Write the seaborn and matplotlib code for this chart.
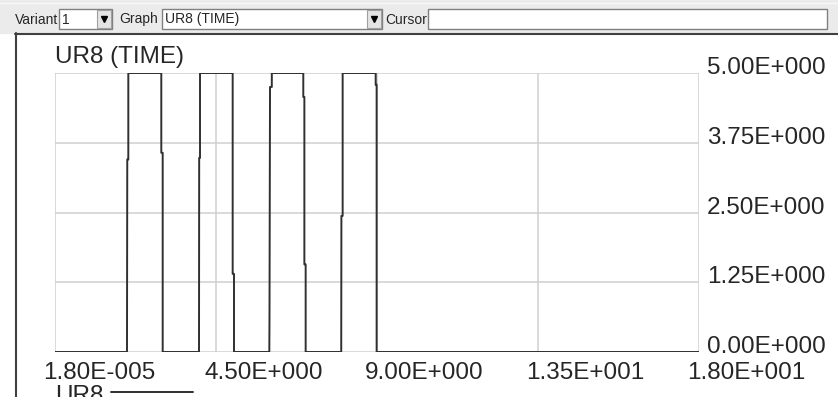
import numpy as np
import pandas as pd
import matplotlib
matplotlib.use("Agg")
import matplotlib.pyplot as plt
import seaborn as sns
from matplotlib.patches import Rectangle

# signal UR8 over TIME (square pulses with small steps on the edges)
time = [0.0, 2.012, 2.02, 2.049, 2.049,
        2.971, 2.971, 3.01, 3.01,
        4.025, 4.03, 4.053, 4.053,
        4.966, 4.966, 5.003, 5.003,
        5.99, 5.995, 6.01, 6.06, 6.06,
        6.94, 6.94, 6.97, 6.97, 7.006, 7.006,
        8.0, 8.005, 8.04, 8.04,
        8.963, 8.963, 8.99, 8.99, 18.0]
ur8 = [0.0, 0.0, 3.45, 3.45, 5.0,
       5.0, 3.57, 3.57, 0.0,
       0.0, 3.48, 3.48, 5.0,
       5.0, 1.40, 1.40, 0.0,
       0.0, 0.6, 4.75, 4.75, 5.0,
       5.0, 4.57, 4.57, 1.57, 1.57, 0.0,
       0.0, 2.44, 2.44, 5.0,
       5.0, 4.79, 4.79, 0.0, 0.0]

x_ticks = [0.0, 4.5, 9.0, 13.5, 18.0]
x_labels = ["1.80E-005", "4.50E+000", "9.00E+000", "1.35E+001", "1.80E+001"]
y_ticks = [0.0, 1.25, 2.5, 3.75, 5.0]
y_labels = ["0.00E+000", "1.25E+000", "2.50E+000", "3.75E+000", "5.00E+000"]

df = pd.DataFrame({"TIME": time, "UR8": ur8})

sns.set_style("white")
plt.rcParams["font.family"] = ["Liberation Sans", "DejaVu Sans"]

W, H = 838, 397
fig = plt.figure(figsize=(W / 100, H / 100), dpi=100)
fig.patch.set_facecolor("#ffffff")


def px(x, y, w, h):
    # rectangle in figure fraction from top-left pixel coords
    return (x / W, 1 - (y + h) / H, w / W, h / H)


# toolbar strip
tb = fig.add_axes([0, 0, 1, 1], zorder=0)
tb.set_xlim(0, W)
tb.set_ylim(H, 0)
tb.axis("off")
tb.add_patch(Rectangle((0, 0), W, 33, color="#ebebeb"))
tb.plot([0, W], [3, 3], color="#f8f8f8", lw=1)
tb.plot([15, W], [33.5, 33.5], color="#404040", lw=1.5)
tb.plot([15.5, 15.5], [33, H], color="#404040", lw=1.5)


def box(x0, x1, arrow=False):
    tb.add_patch(Rectangle((x0, 9), x1 - x0, 20, facecolor="white",
                           edgecolor="#808080", lw=1))
    if arrow:
        tb.add_patch(Rectangle((x1 - 15, 10), 14, 18, facecolor="#e4e4e4",
                               edgecolor="#a0a0a0", lw=0.8))
        tb.plot(x1 - 8, 19, marker="v", color="black", ms=4)


tb.text(15, 19.5, "Variant", fontsize=10, va="center", ha="left")
box(59, 112, True)
tb.text(62, 19.5, "1", fontsize=10, va="center")
tb.text(119, 19.5, "Graph", fontsize=10, va="center", ha="left")
box(162, 382, True)
tb.text(165, 19.5, "UR8 (TIME)", fontsize=10, va="center")
tb.text(385, 19.5, "Cursor", fontsize=10, va="center", ha="left")
box(428, 827)

# main plot area
ax = fig.add_axes(px(55, 73, 644, 279), zorder=2)
ax.set_facecolor("none")
sns.lineplot(data=df, x="TIME", y="UR8", ax=ax, color="#303030",
             linewidth=1.4, estimator=None, sort=False)
ax.set_xlim(0, 18)
ax.set_ylim(0, 5)
ax.set_xticks(x_ticks)
ax.set_yticks(y_ticks)
ax.grid(True, color="#cfcfcf", lw=1.1)
for s in ax.spines.values():
    s.set_visible(False)
ax.tick_params(length=0, labelleft=False, labelbottom=False)
ax.set_xlabel("")
ax.set_ylabel("")

for t, lab in zip(x_ticks, x_labels):
    xp = 55 + t / 18 * 644 - 12
    tb.text(xp, 362, lab, fontsize=17.5, ha="left", va="top")
for v, lab in zip(y_ticks, y_labels):
    yp = 352 - v / 5 * 279 + 1
    tb.text(707, yp, lab, fontsize=17.5, ha="left", va="baseline")

tb.text(55, 46, "UR8 (TIME)", fontsize=17.5, ha="left", va="top")
tb.text(55, 385, "UR8", fontsize=17.5, ha="left", va="top")
tb.plot([111, 193], [392, 392], color="#303030", lw=1.4)

fig.savefig("out.png", dpi=100)
